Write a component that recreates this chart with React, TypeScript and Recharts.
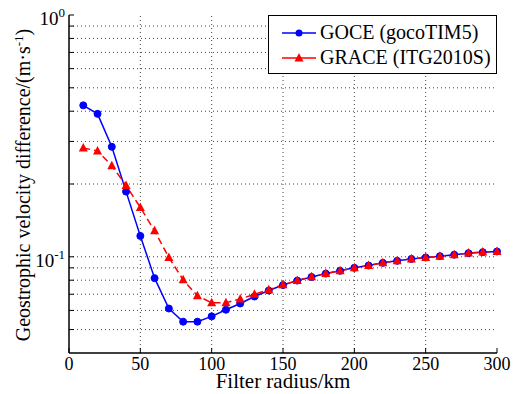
import { Legend, Line, LineChart, ReferenceLine, XAxis, YAxis } from "recharts";

const FONT = "Liberation Serif, Times New Roman, serif";

// filter radius (km)
const radius = [
  10, 20, 30, 40, 50, 60, 70, 80, 90, 100, 110, 120, 130, 140, 150,
  160, 170, 180, 190, 200, 210, 220, 230, 240, 250, 260, 270, 280, 290, 300,
];
// GOCE (gocoTIM5), m/s
const goceValues = [
  0.423, 0.39, 0.285, 0.186, 0.122, 0.0816, 0.0611, 0.0539, 0.0539, 0.0567,
  0.0604, 0.0641, 0.0685, 0.0725, 0.0764, 0.0797, 0.0825, 0.0852, 0.0875, 0.09,
  0.092, 0.0944, 0.0962, 0.098, 0.0993, 0.1006, 0.102, 0.1035, 0.1045, 0.1052,
];
// GRACE (ITG2010S), m/s
const graceValues = [
  0.282, 0.274, 0.238, 0.197, 0.16, 0.128, 0.0993, 0.0803, 0.069, 0.0645,
  0.0646, 0.0669, 0.07, 0.0731, 0.0766, 0.0798, 0.0826, 0.0853, 0.0875, 0.0901,
  0.0921, 0.0945, 0.0963, 0.098, 0.0993, 0.1006, 0.102, 0.1036, 0.1046, 0.1052,
];

const xTicks = [0, 50, 100, 150, 200, 250, 300];
const xGrid = [50, 100, 150, 200, 250];
const yTicks = [0.05, 0.06, 0.07, 0.08, 0.09, 0.1, 0.2, 0.3, 0.4, 0.5, 0.6, 0.7, 0.8, 0.9, 1];
const yGrid = [0.05, 0.06, 0.07, 0.08, 0.09, 0.1, 0.2, 0.3, 0.4, 0.5, 0.6, 0.7, 0.8, 0.9];

const data = radius.map((r, i) => ({ r, goce: goceValues[i], grace: graceValues[i] }));

const BLUE = "#0000ff";
const RED = "#ff0000";
const gridStyle = { stroke: "#444", strokeDasharray: "1 3", strokeWidth: 1 };
const frame = { stroke: "#000", strokeWidth: 1.5 };
// axis groups hand their stroke down, so texts clear it
const textStyle = { fontFamily: FONT, fill: "#000", stroke: "none" };

function Triangle({ cx, cy }: any) {
  if (cx == null || cy == null) return null;
  return <polygon points={`${cx},${cy - 5} ${cx - 4.5},${cy + 3.5} ${cx + 4.5},${cy + 3.5}`} fill={RED} />;
}

function BottomTick({ x, y, payload }: any) {
  return (
    <g>
      <line x1={x} y1={y} x2={x} y2={y - 5} stroke="#000" />
      <text x={x} y={y + 17} textAnchor="middle" fontSize={18} style={textStyle}>
        {payload.value}
      </text>
    </g>
  );
}

function TopTick({ x, y }: any) {
  return <line x1={x} y1={y} x2={x} y2={y + 5} stroke="#000" />;
}

function LeftTick({ x, y, payload }: any) {
  const exp = Math.log10(payload.value);
  const decade = Math.abs(exp - Math.round(exp)) < 1e-6;
  return (
    <g>
      <line x1={x} y1={y} x2={x + 5} y2={y} stroke="#000" />
      {decade && (
        <text x={x - 4} y={y + 10} textAnchor="end" fontSize={19} style={textStyle}>
          10
          <tspan dy={-8} fontSize={13}>{Math.round(exp)}</tspan>
        </text>
      )}
    </g>
  );
}

function RightTick({ x, y }: any) {
  return <line x1={x} y1={y} x2={x - 5} y2={y} stroke="#000" />;
}

const legendItems = [
  { name: "GOCE (gocoTIM5)", color: BLUE, marker: "circle" },
  { name: "GRACE (ITG2010S)", color: RED, marker: "triangle" },
];

function LegendBox() {
  return (
    <div
      style={{
        width: 229,
        height: 59,
        boxSizing: "border-box",
        border: "1.5px solid #000",
        background: "#fff",
        padding: "4px 0 0 12px",
        fontFamily: FONT,
        fontSize: 20,
        lineHeight: "25px",
        color: "#000",
      }}
    >
      {legendItems.map((it) => (
        <div key={it.name} style={{ display: "flex", alignItems: "center" }}>
          <svg width={36} height={12}>
            <line x1={1} y1={6} x2={35} y2={6} stroke={it.color} strokeWidth={1.5} />
            {it.marker === "circle" ? (
              <circle cx={18} cy={6} r={3.5} fill={it.color} />
            ) : (
              <polygon points="18,1 13.5,9.5 22.5,9.5" fill={it.color} />
            )}
          </svg>
          <span style={{ marginLeft: 3 }}>{it.name}</span>
        </div>
      ))}
    </div>
  );
}

function YLabel({ viewBox }: any) {
  const cx = viewBox.x + 30;
  const cy = viewBox.y + viewBox.height / 2 + 1;
  return (
    <text x={cx} y={cy} transform={`rotate(-90 ${cx} ${cy})`} textAnchor="middle" fontSize={20} style={textStyle}>
      Geostrophic velocity difference/(m·s
      <tspan dy={-7} fontSize={13}>-1</tspan>
      <tspan dy={7}>)</tspan>
    </text>
  );
}

function XLabel({ viewBox }: any) {
  return (
    <text x={viewBox.x + viewBox.width / 2} y={viewBox.y + 35} textAnchor="middle" fontSize={21} style={textStyle}>
      Filter radius/km
    </text>
  );
}

export default function App() {
  return (
    <div style={{ position: "absolute", left: 0, top: 0, background: "#fff" }}>
      <LineChart width={514} height={394} data={data} margin={{ top: 15, right: 17, bottom: 0, left: 0 }}>
        {xGrid.map((v) => (
          <ReferenceLine key={`x${v}`} x={v} {...gridStyle} />
        ))}
        {yGrid.map((v) => (
          <ReferenceLine key={`y${v}`} y={v} {...gridStyle} />
        ))}
        <XAxis
          dataKey="r"
          type="number"
          domain={[0, 300]}
          ticks={xTicks}
          interval={0}
          tickSize={0}
          tickMargin={0}
          height={41}
          axisLine={frame}
          tick={<BottomTick />}
          label={<XLabel />}
        />
        <XAxis
          xAxisId="top"
          orientation="top"
          type="number"
          domain={[0, 300]}
          ticks={xTicks}
          interval={0}
          tickSize={0}
          tickMargin={0}
          height={0}
          axisLine={frame}
          tick={<TopTick />}
        />
        <YAxis
          type="number"
          scale="log"
          domain={[0.04, 1]}
          allowDataOverflow
          ticks={yTicks}
          interval={0}
          tickSize={0}
          tickMargin={0}
          width={69}
          axisLine={frame}
          tick={<LeftTick />}
          label={<YLabel />}
        />
        <YAxis
          yAxisId="right"
          orientation="right"
          type="number"
          scale="log"
          domain={[0.04, 1]}
          allowDataOverflow
          ticks={yTicks}
          interval={0}
          tickSize={0}
          tickMargin={0}
          width={0}
          axisLine={frame}
          tick={<RightTick />}
        />
        <Legend
          verticalAlign="middle"
          wrapperStyle={{ left: 268, top: 15, width: 229, height: 59 }}
          content={() => <LegendBox />}
        />
        <Line
          dataKey="goce"
          name="GOCE (gocoTIM5)"
          stroke={BLUE}
          strokeWidth={1.5}
          dot={{ r: 3.5, fill: BLUE, stroke: BLUE, strokeWidth: 1 }}
          activeDot={false}
          isAnimationActive={false}
        />
        <Line
          dataKey="grace"
          name="GRACE (ITG2010S)"
          stroke={RED}
          strokeWidth={1.5}
          strokeDasharray="7 4"
          dot={<Triangle />}
          activeDot={false}
          isAnimationActive={false}
        />
      </LineChart>
    </div>
  );
}
